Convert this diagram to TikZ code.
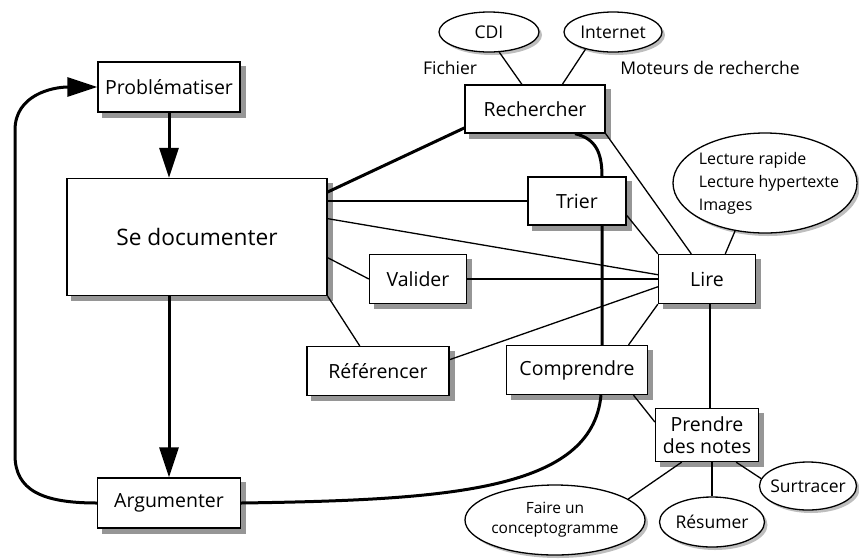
\documentclass[tikz,border=0pt]{standalone}
\usepackage{fontspec}
\setmainfont{Open Sans}
\usetikzlibrary{arrows.meta,positioning,shapes.geometric,backgrounds,calc}
\definecolor{shadowgray}{RGB}{150,150,150}
\definecolor{ovalgray}{RGB}{190,190,190}

\begin{document}
\begin{tikzpicture}[
            x=1pt, y=-1pt,
            font=\fontsize{17.5}{21}\selectfont,
            box/.style={draw, line width=1.3pt, fill=white, inner sep=0pt, align=center,
                font=\fontsize{19.5}{22}\selectfont},
            oval/.style={ellipse, draw, line width=1.3pt, fill=white, inner sep=0pt, align=center},
            link/.style={line width=1.3pt},
            main/.style={line width=3pt},
            >={Triangle[length=30pt, width=19pt]}
        ]
        \useasboundingbox (0,0) rectangle (859,558);

        \node[box, minimum width=142pt, minimum height=50pt] (prob) at (169,87) {Problématiser};
        \node[box, minimum width=260pt, minimum height=117pt, font=\fontsize{22.7}{26}\selectfont] (doc) at (197,237) {Se documenter};
        \node[box, minimum width=143pt, minimum height=50pt] (arg) at (169,503) {Argumenter};

        \node[box, minimum width=140pt, minimum height=48pt] (rech) at (535,109) {Rechercher};
        \node[box, minimum width=98pt, minimum height=48pt] (trier) at (577,201) {Trier};
        \node[box, minimum width=97pt, minimum height=49pt] (valid) at (418,279) {Valider};
        \node[box, minimum width=97pt, minimum height=49pt] (lire) at (707,279) {Lire};
        \node[box, minimum width=142pt, minimum height=49pt] (ref) at (378,371) {Référencer};
        \node[box, minimum width=141pt, minimum height=49pt] (comp) at (577,370) {Comprendre};
        \node[box, minimum width=103pt, minimum height=53pt] (notes) at (707,435) {Prendre\\des notes};

        \node[oval, minimum width=100pt, minimum height=40pt] (cdi) at (489,32) {CDI};
        \node[oval, minimum width=98pt, minimum height=40pt] (web) at (613,32) {Internet};
        \node (fich) at (450,68) {Fichier};
        \node (moteur) at (710,68) {Moteurs de recherche};
        \node[oval, minimum width=184pt, minimum height=100pt, inner xsep=-10pt, align=left,
            font=\fontsize{16}{23}\selectfont] (lect) at (765,183) {\hspace*{8pt}Lecture rapide\\\hspace*{8pt}Lecture hypertexte\\\hspace*{8pt}Images};
        \node[oval, minimum width=180pt, minimum height=70pt, inner xsep=-10pt,
            font=\fontsize{15.5}{20}\selectfont] (concept) at (555,520) {Faire un\\conceptogramme};
        \node[oval, minimum width=105pt, minimum height=50pt] (resum) at (712,522) {Résumer};
        \node[oval, minimum width=97pt, minimum height=48pt, inner xsep=-4pt] (surtr) at (808,486) {Surtracer};

        \begin{scope}[on background layer]
            \foreach \n in {prob,doc,arg,rech,trier,valid,lire,ref,comp,notes}
                \fill[shadowgray] (\n.south west) ++(5,5) rectangle ++($(\n.north east)-(\n.south west)$);
            \foreach \n/\rx/\ry in {cdi/50/20,web/49/20,lect/92/50,concept/90/35,resum/52.5/25,surtr/48.5/24}
                \fill[ovalgray] (\n.center) ++(3,3) ellipse [x radius=\rx, y radius=\ry];

            \draw[main, ->] (prob) -- (prob |- doc.north);
            \draw[main, ->] (doc.south -| arg) -- (arg);
            \draw[main, ->] (arg.west) .. controls +(-55,0) and +(0,35) .. (15,455) -- (15,130)
                .. controls +(0,-35) and +(-45,0) .. (prob.west);
            \draw[main] ([xshift=40pt]rech.south) .. controls +(20,5) and +(0,-25) .. ([xshift=25pt]trier.north)
                -- ([xshift=25pt]comp.north);
            \draw[main] ([xshift=24pt]comp.south) .. controls +(-9,95) and +(210,-3) .. (arg.east);
            \draw[main] (doc.19) -- (rech.195);

            \draw[link] (doc.east |- trier.west) -- (trier.west);
            \draw[link] (doc.8) -- (lire.175);
            \draw[link] (doc.-9) -- (valid.west);
            \draw[link] (doc.south east) -- (ref.126);
            \draw[link] (valid.east) -- (valid.east -| lire.west);
            \draw[link] (ref.9) -- (lire.189);
            \draw[link] (trier.-16) -- (lire.north west);
            \draw[link] (rech.south east) -- (lire.122);
            \draw[link] (lect.238) -- (lire.54);
            \draw[link] (comp.26) -- (lire.south west);
            \draw[link] (comp.-24) -- (notes.166);
            \draw[link] ([xshift=3pt]lire.south) -- ([xshift=3pt]notes.north);
            \draw[link] (notes.227) -- (concept.16);
            \draw[link] (resum.north |- notes.south) -- (resum.north);
            \draw[link] (notes.-43) -- (surtr.171);
            \draw[link] (cdi.-63) -- (rech.118);
            \draw[link] (web.212) -- (rech.42);
        \end{scope}
    \end{tikzpicture}
\end{document}
